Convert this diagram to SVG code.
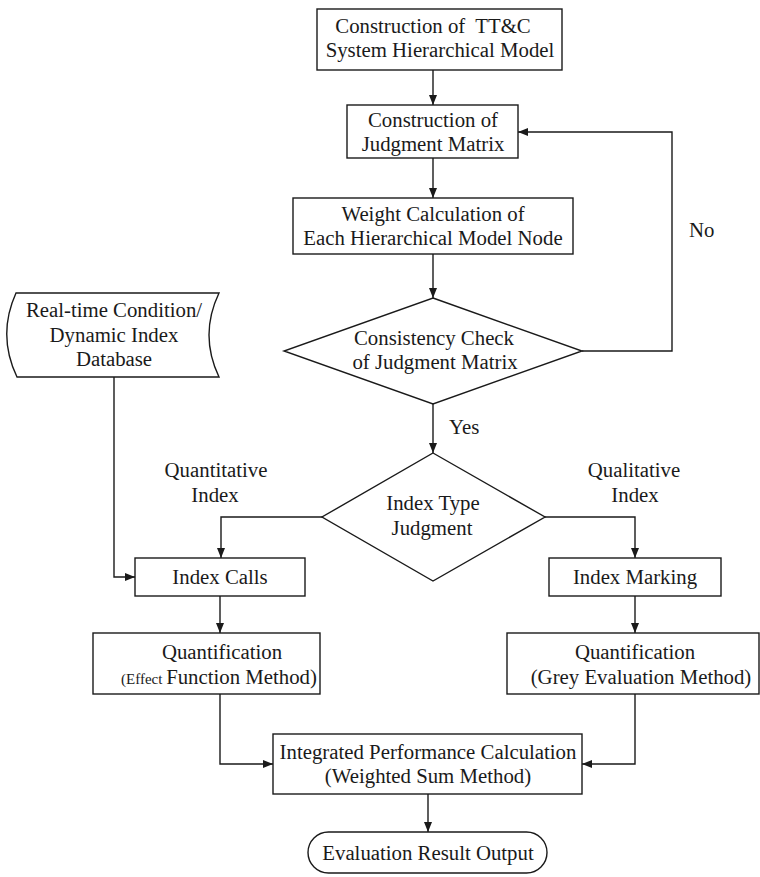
<svg xmlns="http://www.w3.org/2000/svg" width="760" height="877" viewBox="0 0 760 877">
<style>
.s{fill:#fff;stroke:#1a1a1a;stroke-width:1.4}
.c{fill:none;stroke:#1a1a1a;stroke-width:1.4}
text{font-family:'Liberation Serif','Times New Roman',Times,'DejaVu Serif','Noto Serif',serif;font-size:20.8px;fill:#1a1a1a}
.m{text-anchor:middle}
</style>
<defs>
<marker id="a" viewBox="0 0 10 10" refX="10" refY="5" markerWidth="10" markerHeight="10" markerUnits="userSpaceOnUse" orient="auto">
<path d="M0,1 L10,5 L0,9 Z" fill="#1a1a1a"/>
</marker>
</defs>
<g id="connectors">
<path class="c" d="M433,70 V105" marker-end="url(#a)"/>
<path class="c" d="M433,158 V198" marker-end="url(#a)"/>
<path class="c" d="M433,254 V298" marker-end="url(#a)"/>
<path class="c" d="M582,351 H672 V132 H518" marker-end="url(#a)"/>
<path class="c" d="M433,404 V453" marker-end="url(#a)"/>
<path class="c" d="M322,517 H221 V558" marker-end="url(#a)"/>
<path class="c" d="M545,517 H635 V558" marker-end="url(#a)"/>
<path class="c" d="M114,377 V577 H135" marker-end="url(#a)"/>
<path class="c" d="M220,596 V633" marker-end="url(#a)"/>
<path class="c" d="M635,596 V633" marker-end="url(#a)"/>
<path class="c" d="M220,694 V764 H273" marker-end="url(#a)"/>
<path class="c" d="M635,694 V764 H582" marker-end="url(#a)"/>
<path class="c" d="M428,794 V832" marker-end="url(#a)"/>
<text x="689" y="237">No</text>
<text x="449" y="434">Yes</text>
<text class="m" x="216" y="477">Quantitative</text>
<text class="m" x="215" y="502">Index</text>
<text class="m" x="634" y="477">Qualitative</text>
<text class="m" x="635" y="502">Index</text>
</g>
<g id="n1">
<rect class="s" x="317" y="9" width="245" height="61"/>
<text class="m" x="433" y="33" xml:space="preserve">Construction of  TT&amp;C</text>
<text class="m" x="440" y="57">System Hierarchical Model</text>
</g>
<g id="n2">
<rect class="s" x="347" y="105" width="171" height="53"/>
<text class="m" x="433" y="127">Construction of</text>
<text class="m" x="433" y="151">Judgment Matrix</text>
</g>
<g id="n3">
<rect class="s" x="293" y="198" width="280" height="56"/>
<text class="m" x="433" y="221">Weight Calculation of</text>
<text class="m" x="433" y="245">Each Hierarchical Model Node</text>
</g>
<g id="n4">
<path class="s" d="M433,298 L582,351 L433,404 L284,351 Z"/>
<text class="m" x="434" y="345">Consistency Check</text>
<text class="m" x="435" y="369">of Judgment Matrix</text>
</g>
<g id="n5">
<path class="s" d="M16,293 H219 Q199,335 219,377 H17 Q-3,335 16,293 Z"/>
<text class="m" x="114" y="317">Real-time Condition/</text>
<text class="m" x="114" y="342">Dynamic Index</text>
<text class="m" x="114" y="366">Database</text>
</g>
<g id="n6">
<path class="s" d="M433,453 L545,517 L433,581 L322,517 Z"/>
<text class="m" x="433" y="510">Index Type</text>
<text class="m" x="432" y="535">Judgment</text>
</g>
<g id="n7">
<rect class="s" x="135" y="558" width="170" height="38"/>
<text class="m" x="220" y="584">Index Calls</text>
</g>
<g id="n8">
<rect class="s" x="549" y="558" width="172" height="38"/>
<text class="m" x="635" y="584">Index Marking</text>
</g>
<g id="n9">
<rect class="s" x="93" y="633" width="227" height="61"/>
<text class="m" x="222" y="659">Quantification</text>
<text x="121" y="684" font-size="20.5"><tspan font-size="15">(Effect </tspan>Function Method)</text>
</g>
<g id="n10">
<rect class="s" x="507" y="633" width="252" height="61"/>
<text class="m" x="635" y="659">Quantification</text>
<text class="m" x="641" y="684">(Grey Evaluation Method)</text>
</g>
<g id="n11">
<rect class="s" x="273" y="734" width="309" height="60"/>
<text class="m" x="428" y="759">Integrated Performance Calculation</text>
<text class="m" x="428" y="783">(Weighted Sum Method)</text>
</g>
<g id="n12">
<rect class="s" x="308" y="832" width="239" height="41" rx="20.5" ry="20.5"/>
<text class="m" x="428" y="860">Evaluation Result Output</text>
</g>
</svg>
